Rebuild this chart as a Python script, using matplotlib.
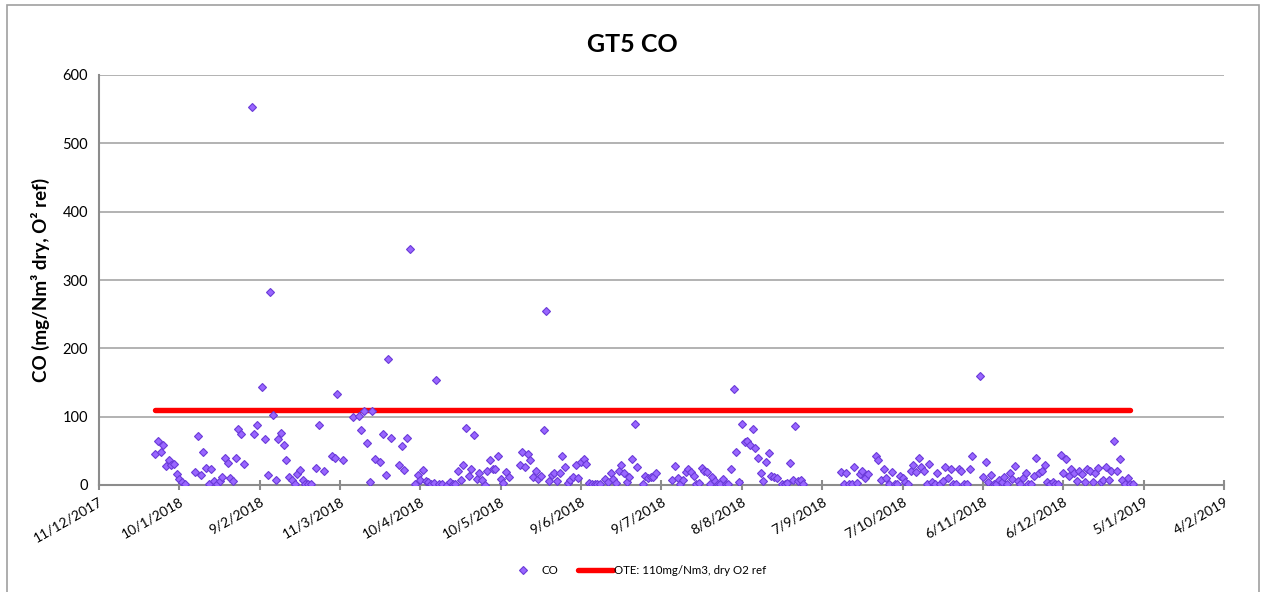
import matplotlib
matplotlib.use("Agg")
import matplotlib.pyplot as plt
from matplotlib.lines import Line2D
from matplotlib.patches import Rectangle
import pandas as pd

# ---- data (days since 2018-01-01, CO value) ----
days = [0, 1, 2, 3, 4, 5, 6, 7, 8, 9, 10, 11, 15, 16, 17, 18, 19, 20, 21, 22, 23, 24, 25, 26, 27, 28, 29, 30,
        31, 32, 33, 36, 37, 38, 40, 41, 42, 43, 44, 45, 46, 47, 48, 49, 50, 51, 52, 53, 54, 55, 56, 57, 58,
        60, 61, 63, 66, 67, 68, 70, 74, 76, 77, 78, 79, 80, 81, 82, 84, 85, 86, 87, 88, 91, 92, 93, 94, 95,
        97, 98, 99, 100, 101, 102, 103, 104, 105, 106, 107, 109, 110, 111, 112, 113, 114, 115, 116, 117, 118,
        119, 120, 121, 122, 123, 124, 125, 126, 127, 128, 129, 130, 131, 132, 136, 137, 138, 139, 140, 141,
        142, 143, 144, 145, 146, 147, 148, 149, 150, 151, 152, 153, 154, 155, 156, 157, 158, 159, 160, 161,
        162, 163, 164, 165, 166, 168, 169, 170, 171, 172, 173, 174, 175, 176, 177, 178, 179, 180,
        182, 183, 184, 185, 186, 187, 193, 194, 195, 196, 197, 198, 199, 200, 201, 202, 203, 204, 205, 206,
        207, 208, 209, 210, 211, 212, 213, 214, 215, 216, 217, 218, 219, 220, 221, 222, 223, 224, 225, 226,
        227, 228, 229, 230, 231, 232, 234, 235, 236, 237, 238, 239, 240, 241, 242,
        256, 257, 258, 259, 260, 261, 262, 263, 264, 265, 266, 269, 270, 271, 272, 273, 274, 275, 276, 277,
        278, 279, 280, 281, 282, 283, 284, 285, 286, 287, 288, 289, 290, 291, 292, 293, 294, 295, 296, 297,
        298, 299, 300, 301, 302, 303, 304, 305,
        308, 309, 310, 311, 312, 313, 314, 315, 316, 317, 318, 319, 320, 321, 322, 323, 324, 325, 326, 327,
        328, 329, 330, 331, 332, 333, 334, 335, 336, 337, 338, 339, 340, 341, 342, 343, 344, 345, 346, 347,
        348, 349, 350, 351, 352, 353, 354, 355, 356, 357, 358, 359, 360, 361, 362, 363, 364, 365]

co = [45, 64, 49, 58, 28, 36, 30, 31, 16, 9, 4, 1, 19, 71, 14, 49, 25, 1, 24, 6, 1, 6, 12, 40, 32, 10, 6, 40,
      82, 75, 31, 553, 75, 88, 143, 67, 14, 282, 103, 8, 68, 76, 58, 37, 11, 7, 2, 16, 22, 8, 1, 1, 1,
      25, 88, 20, 43, 40, 133, 36, 100, 101, 80, 109, 62, 5, 109, 38, 34, 74, 15, 184, 69, 29, 57, 22, 69, 345,
      2, 15, 7, 22, 6, 4, 2, 3, 153, 2, 2, 0, 4, 2, 2, 20, 8, 30, 83, 13, 24,
      73, 9, 18, 8, 0, 20, 37, 23, 24, 43, 9, 3, 19, 12, 30, 49, 27, 46, 36, 12,
      21, 9, 13, 80, 254, 6, 14, 18, 6, 17, 42, 27, 3, 7, 11, 29, 10, 33, 38, 31,
      3, 1, 1, 1, 1, 9, 4, 17, 9, 3, 21, 29, 17, 4, 11, 38, 90, 27,
      2, 13, 10, 12, 11, 17, 8, 28, 10, 1, 8, 19, 23, 19, 13, 1, 3, 25, 21, 19,
      2, 12, 6, 1, 2, 9, 1, 2, 23, 141, 48, 5, 89, 63, 65, 59, 82, 54, 40, 18,
      6, 33, 47, 13, 11, 10, 2, 1, 3, 32, 7, 86, 6, 8, 2,
      19, 1, 17, 1, 1, 27, 3, 16, 20, 10, 16, 42, 36, 8, 24, 10, 2, 19, 1, 1,
      13, 10, 4, 1, 20, 30, 19, 40, 27, 21, 1, 31, 5, 1, 17, 2, 6, 26, 10, 23,
      1, 1, 23, 20, 1, 1, 23, 42,
      159, 12, 33, 5, 14, 2, 2, 8, 4, 12, 1, 17, 9, 28, 6, 2, 10, 17, 2, 2,
      13, 39, 18, 21, 29, 5, 2, 5, 1, 2, 44, 17, 38, 13, 23, 17, 6, 21, 16, 5,
      23, 20, 5, 17, 25, 5, 8, 26, 8, 20, 64, 21, 38, 7, 2, 10, 1, 2]

limit_dates = ["2018-01-01", "2018-12-31"]
limit_value = [110, 110]

title = "GT5 CO"
ylabel = "CO (mg/Nm³ dry, O² ref)"
series_names = ["CO", "OTE: 110mg/Nm3, dry O2 ref"]
x_start = "2017-12-11"
x_step_days = 30
n_steps = 14
y_ticks = [0, 100, 200, 300, 400, 500, 600]

# ---- figure ----
plt.rcParams['font.family'] = ['Lato', 'DejaVu Sans']
W, H = 1264, 592
fig = plt.figure(figsize=(W / 100, H / 100), dpi=100)
fig.patch.set_facecolor('white')

# outer border
fig.patches.append(Rectangle((7 / W, -0.05), (1259 - 7) / W, 1 - 5 / H + 0.05,
                             transform=fig.transFigure, fill=False,
                             edgecolor='#A0A0A0', linewidth=1.2))

ax = fig.add_axes([99 / W, 1 - 485 / H, (1224 - 99) / W, (485 - 75) / H])

dates = pd.Timestamp("2018-01-01") + pd.to_timedelta(days, unit="D")
ldates = pd.to_datetime(limit_dates)

ax.plot(ldates, limit_value, color='#FF0000', linewidth=3.9, solid_capstyle='round',
        zorder=3, label=series_names[1])
ax.plot(dates, co, linestyle='none', marker='D', markersize=4.0,
        markerfacecolor='#9966FF', markeredgecolor='#6A3AD8', markeredgewidth=0.8,
        zorder=4, label=series_names[0])

start = pd.Timestamp(x_start)
ticks = [start + pd.Timedelta(days=x_step_days * k) for k in range(n_steps + 1)]
ax.set_xlim(ticks[0], ticks[-1])
ax.set_xticks(ticks)
ax.set_xticklabels([f"{t.day}/{t.month}/{t.year}" for t in ticks], rotation=30,
                   ha='right', rotation_mode='anchor', fontsize=10)

ax.set_ylim(0, 600)
ax.set_yticks(y_ticks)
ax.set_yticklabels([str(v) for v in y_ticks], fontsize=10.5)
ax.yaxis.grid(True, color='#A6A6A6', linewidth=1.2)
ax.set_axisbelow(True)

for s in ['top', 'right']:
    ax.spines[s].set_visible(False)
for s in ['left', 'bottom']:
    ax.spines[s].set_color('#8C8C8C')
    ax.spines[s].set_linewidth(1.5)

ax.tick_params(axis='x', direction='inout', length=7, width=1.5, color='#8C8C8C', pad=4)
ax.tick_params(axis='y', length=0, pad=8)

ax.set_ylabel(ylabel, fontsize=13.5, fontweight='bold', labelpad=9)
fig.text(632 / W, 1 - 45 / H, title, ha='center', va='center', fontsize=18, fontweight='bold')

handles = [Line2D([], [], linestyle='none', marker='D', markersize=4.0,
                  markerfacecolor='#9966FF', markeredgecolor='#6A3AD8', markeredgewidth=0.8),
           Line2D([], [], color='#FF0000', linewidth=3.9, solid_capstyle='round')]
fig.legend(handles, series_names, loc='center', bbox_to_anchor=(636 / W, 1 - 571 / H),
           ncol=2, frameon=False, fontsize=8.3, handlelength=3.0, handletextpad=0.1,
           columnspacing=1.7)

fig.savefig("out.png", dpi=100, facecolor='white')
